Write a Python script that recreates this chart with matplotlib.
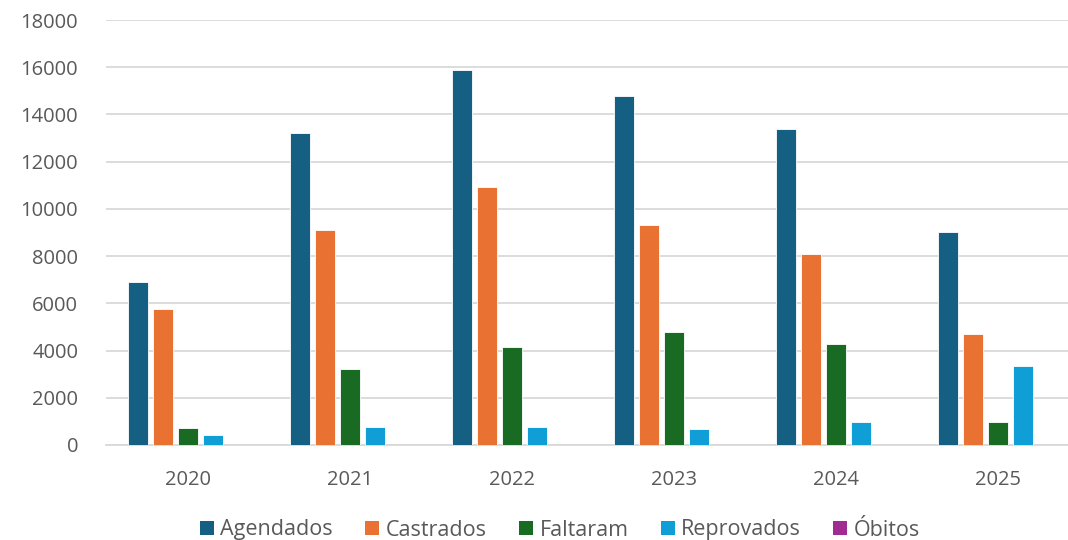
import numpy as np
import matplotlib.pyplot as plt
from matplotlib.patches import Patch

plt.rcParams['font.family'] = ['Open Sans', 'DejaVu Sans']

anos = ['2020', '2021', '2022', '2023', '2024', '2025']
agendados = [6920, 13220, 15890, 14790, 13390, 9030]
castrados = [5740, 9110, 10930, 9320, 8100, 4700]
faltaram = [740, 3230, 4170, 4790, 4280, 970]
reprovados = [420, 760, 760, 670, 980, 3340]
obitos = [0, 0, 0, 0, 20, 0]

series = [agendados, castrados, faltaram, reprovados, obitos]
nomes = ['Agendados', 'Castrados', 'Faltaram', 'Reprovados', 'Óbitos']
cores = ['#156082', '#E97132', '#196B24', '#0F9ED5', '#A02B93']

fig = plt.figure(figsize=(10.68, 5.40), dpi=100)
ax = fig.add_axes([106/1068, 95/540, (1068-106)/1068, 425/540])

x = np.arange(len(anos))
step = 0.154
w = 0.125
for i, (vals, cor) in enumerate(zip(series, cores)):
    ax.bar(x + (i - 2)*step, vals, width=w, color=cor, edgecolor='white', linewidth=0.6, zorder=3)

ax.set_ylim(0, 18000)
ax.set_xlim(-0.506, 5.432)
ax.set_yticks(np.arange(0, 18001, 2000))
ax.set_xticks(x)
ax.set_xticklabels(anos)
ax.grid(axis='y', color='#d9d9d9', linewidth=1.3, zorder=0)
for s in ['top', 'right', 'left']:
    ax.spines[s].set_visible(False)
ax.spines['bottom'].set_color('#d9d9d9')
ax.spines['bottom'].set_linewidth(1.3)
ax.tick_params(axis='both', length=0, labelsize=14.5, labelcolor='#595959')
ax.tick_params(axis='y', pad=20)
ax.tick_params(axis='x', pad=18)

handles = [Patch(facecolor=c, label=n) for c, n in zip(cores, nomes)]
leg = fig.legend(handles=handles, loc='center', bbox_to_anchor=(560/1068, 10/540), ncol=5,
                 frameon=False, fontsize=15.5, handlelength=0.65, handleheight=0.65,
                 handletextpad=0.3, columnspacing=1.5)
for t in leg.get_texts():
    t.set_color('#595959')

fig.savefig('out.png', dpi=100)
